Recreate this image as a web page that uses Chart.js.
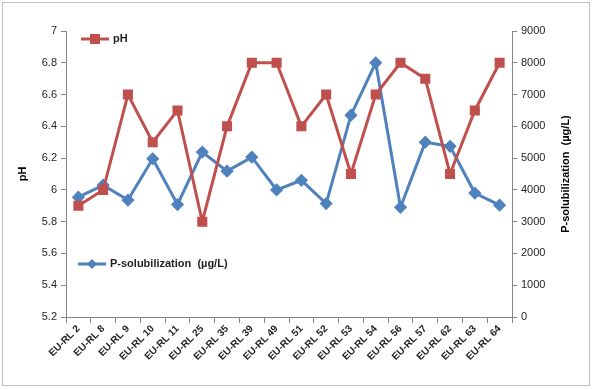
<!DOCTYPE html>
<html>
<head>
<meta charset="utf-8">
<script src="https://cdn.jsdelivr.net/npm/chart.js@4"></script>
<style>
  body { margin: 0; background: #fff; }
  #wrap { width: 593px; height: 389px; }
</style>
</head>
<body>
<div id="wrap"><canvas id="myChart" width="593" height="389"></canvas></div>
<script>
// data
var strains = ["EU-RL 2","EU-RL 8","EU-RL 9","EU-RL 10","EU-RL 11","EU-RL 25","EU-RL 35","EU-RL 39","EU-RL 49","EU-RL 51","EU-RL 52","EU-RL 53","EU-RL 54","EU-RL 56","EU-RL 57","EU-RL 62","EU-RL 63","EU-RL 64"];
var phValues = [5.9, 6.0, 6.6, 6.3, 6.5, 5.8, 6.4, 6.8, 6.8, 6.4, 6.6, 6.1, 6.6, 6.8, 6.7, 6.1, 6.5, 6.8];
var pSolub = [3770, 4150, 3680, 4980, 3540, 5190, 4590, 5030, 4000, 4300, 3570, 6350, 8000, 3450, 5500, 5370, 3900, 3520];
var phTicks = [5.2, 5.4, 5.6, 5.8, 6, 6.2, 6.4, 6.6, 6.8, 7];

var red = '#C0504D';
var blue = '#4F81BD';
var axisGray = '#868686';
var txt = '#1f1f1f';
var fam = '"Liberation Sans", Arial, sans-serif';

// frame round the whole chart, like the spreadsheet chart box
var framePlugin = {
    id: 'frame',
    beforeDraw: function(chart) {
        var c = chart.ctx;
        c.save();
        c.strokeStyle = '#BFBFBF';
        c.lineWidth = 1;
        c.strokeRect(2.5, 2.5, chart.width - 6, chart.height - 6);
        c.restore();
    }
};

// legend entries inside the plot + right axis title read bottom-to-top
var legendPlugin = {
    id: 'inLegend',
    afterDraw: function(chart) {
        var c = chart.ctx;
        var a = chart.chartArea;
        function entry(i, x, y) {
            var ds = chart.data.datasets[i];
            c.save();
            c.strokeStyle = ds.borderColor;
            c.lineWidth = 3;
            c.beginPath();
            c.moveTo(x, y);
            c.lineTo(x + 28, y);
            c.stroke();
            c.fillStyle = ds.pointBackgroundColor;
            c.beginPath();
            if (ds.pointStyle === 'rect') {
                c.rect(x + 14 - 5, y - 5, 10, 10);
            } else {
                c.moveTo(x + 14, y - 5);
                c.lineTo(x + 19, y);
                c.lineTo(x + 14, y + 5);
                c.lineTo(x + 9, y);
                c.closePath();
            }
            c.fill();
            c.fillStyle = txt;
            c.font = 'bold 11px ' + fam;
            c.textBaseline = 'middle';
            c.fillText(ds.label, x + 32, y);
            c.restore();
        }
        entry(0, a.left + 15, a.top + 8);
        entry(1, a.left + 12, a.top + 233);

        c.save();
        c.translate(566, (a.top + a.bottom) / 2);
        c.rotate(-Math.PI / 2);
        c.fillStyle = '#000';
        c.font = 'bold 11px ' + fam;
        c.textAlign = 'center';
        c.textBaseline = 'middle';
        c.fillText('P-solubilization  (µg/L)', 0, 0);
        c.restore();
    }
};

var tickFont = { family: fam, size: 11 };

new Chart(document.getElementById('myChart'), {
    type: 'line',
    data: {
        labels: strains,
        datasets: [{
            label: 'pH',
            data: phValues,
            yAxisID: 'y',
            borderColor: red,
            backgroundColor: red,
            pointBackgroundColor: red,
            pointBorderColor: red,
            pointStyle: 'rect',
            pointRadius: 5,
            borderWidth: 3,
            tension: 0
        }, {
            label: 'P-solubilization  (µg/L)',
            data: pSolub,
            yAxisID: 'y1',
            borderColor: blue,
            backgroundColor: blue,
            pointBackgroundColor: blue,
            pointBorderColor: blue,
            pointStyle: 'rectRot',
            pointRadius: 4.5,
            borderWidth: 3,
            tension: 0
        }]
    },
    options: {
        responsive: false,
        animation: false,
        layout: { padding: { top: 31, left: 0, right: 0, bottom: 0 } },
        plugins: {
            legend: { display: false },
            tooltip: { enabled: false }
        },
        scales: {
            x: {
                offset: true,
                grid: { drawOnChartArea: false, drawTicks: true, tickLength: 6, color: axisGray, offset: true },
                border: { color: axisGray },
                ticks: {
                    color: txt,
                    minRotation: 45,
                    maxRotation: 45,
                    autoSkip: false,
                    padding: 0,
                    font: { family: fam, size: 10, weight: 'bold' }
                },
                afterFit: function(s) { s.height = 72; }
            },
            y: {
                position: 'left',
                min: 5.2,
                max: 7,
                afterBuildTicks: function(s) { s.ticks = phTicks.map(function(v) { return { value: v }; }); },
                grid: { drawOnChartArea: false, tickLength: 5, color: axisGray },
                border: { color: axisGray },
                ticks: {
                    color: txt, font: tickFont, padding: 4,
                    callback: function(v) { return String(Math.round(v * 10) / 10); }
                },
                title: {
                    display: true,
                    text: 'pH',
                    color: '#000',
                    font: { family: fam, size: 11, weight: 'bold' },
                    padding: { top: 16, bottom: 0 }
                },
                afterFit: function(s) { s.width = 66; }
            },
            y1: {
                position: 'right',
                min: 0,
                max: 9000,
                grid: { drawOnChartArea: false, tickLength: 5, color: axisGray },
                border: { color: axisGray },
                ticks: {
                    stepSize: 1000, color: txt, font: tickFont, padding: 4,
                    callback: function(v) { return String(v); }
                },
                afterFit: function(s) { s.width = 81; }
            }
        }
    },
    plugins: [framePlugin, legendPlugin]
});
</script>
</body>
</html>
